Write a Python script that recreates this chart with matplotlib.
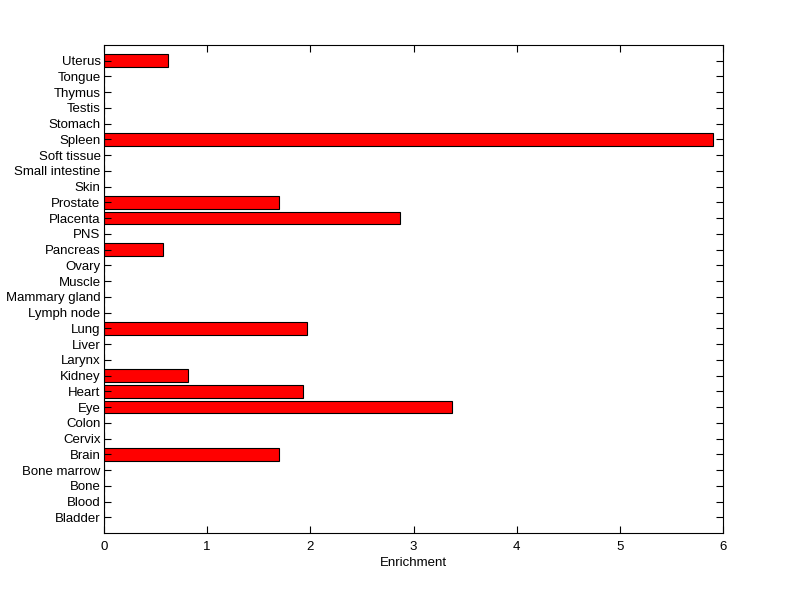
import matplotlib
matplotlib.use('Agg')
import matplotlib.pyplot as plt

tissues = ['Bladder', 'Blood', 'Bone', 'Bone marrow', 'Brain', 'Cervix', 'Colon',
           'Eye', 'Heart', 'Kidney', 'Larynx', 'Liver', 'Lung', 'Lymph node',
           'Mammary gland', 'Muscle', 'Ovary', 'Pancreas', 'PNS', 'Placenta',
           'Prostate', 'Skin', 'Small intestine', 'Soft tissue', 'Spleen',
           'Stomach', 'Testis', 'Thymus', 'Tongue', 'Uterus']
enrichment = [0, 0, 0, 0, 1.70, 0, 0,
              3.37, 1.93, 0.81, 0, 0, 1.97, 0,
              0, 0, 0, 0.57, 0, 2.87,
              1.70, 0, 0, 0, 5.90,
              0, 0, 0, 0, 0.62]

plt.rcParams['font.family'] = ['Liberation Sans', 'DejaVu Sans']

fig = plt.figure(figsize=(8, 5.99), dpi=100)
ax = fig.add_axes([0.13, 0.1102, 0.77375, 0.8147])

pos = list(range(1, len(tissues) + 1))
ax.barh(pos, enrichment, height=0.8, color='#ff0000', edgecolor='black', linewidth=0.8)

ax.set_xlim(0, 6)
ax.set_ylim(0, len(tissues) + 1)
ax.set_yticks(pos)
ax.set_yticklabels(tissues)
ax.set_xticks(range(0, 7))
ax.set_xlabel('Enrichment', fontsize=9.5, labelpad=3)

ax.tick_params(axis='both', direction='in', labelsize=9.5, length=5, width=0.8,
               top=True, right=True)
ax.tick_params(axis='x', pad=5.5)
ax.tick_params(axis='y', pad=2.5)
for s in ax.spines.values():
    s.set_linewidth(0.8)

fig.savefig('out.png', dpi=100)
